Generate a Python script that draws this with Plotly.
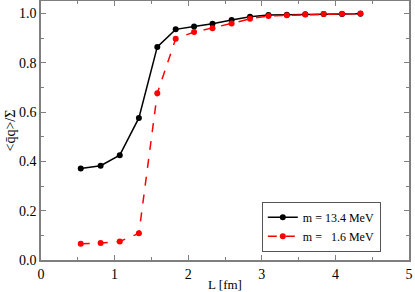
import plotly.graph_objects as go

L = [0.54, 0.81, 1.07, 1.33, 1.58, 1.83, 2.08, 2.33, 2.59, 2.84, 3.09, 3.34, 3.59, 3.84, 4.09, 4.34]
heavy = [0.371, 0.382, 0.425, 0.576, 0.864, 0.935, 0.947, 0.958, 0.973, 0.986, 0.993, 0.994, 0.996, 0.997, 0.997, 0.998]
light = [0.066, 0.069, 0.075, 0.108, 0.676, 0.897, 0.924, 0.940, 0.959, 0.978, 0.989, 0.992, 0.995, 0.997, 0.998, 0.999]

FONT = "Times New Roman, Liberation Serif, serif"

fig = go.Figure()
fig.add_trace(go.Scatter(x=L, y=heavy, mode="lines+markers", name="m = 13.4 MeV",
                         line=dict(color="black", width=1.5),
                         marker=dict(color="black", size=6)))
fig.add_trace(go.Scatter(x=L, y=light, mode="lines+markers", name="m =   1.6 MeV",
                         line=dict(color="#ff0000", width=1.5, dash="dash"),
                         marker=dict(color="#ff0000", size=6)))

axis_common = dict(showline=True, linecolor="#7f7f7f", linewidth=1.5, mirror="allticks",
                   ticks="inside", ticklen=5, tickcolor="#7f7f7f", tickwidth=1,
                   showgrid=False, zeroline=False, automargin=False,
                   tickfont=dict(family=FONT, size=14, color="black"))

fig.update_xaxes(range=[0, 5], dtick=1,
                 title=dict(text="L [fm]", font=dict(family=FONT, size=13, color="black"), standoff=2),
                 minor=dict(ticks="inside", dtick=0.5, ticklen=3, tickcolor="#7f7f7f"),
                 **axis_common)
fig.update_yaxes(range=[0, 1.05], dtick=0.2, tickformat=".1f",
                 title=dict(text="<q\u0304q>/\u03a3", font=dict(family=FONT, size=14, color="black"), standoff=0),
                 minor=dict(ticks="inside", dtick=0.1, ticklen=3, tickcolor="#7f7f7f"),
                 **axis_common)

fig.update_layout(
    width=415, height=292,
    margin=dict(l=41, r=6, t=1, b=32, autoexpand=False),
    plot_bgcolor="white", paper_bgcolor="white",
    font=dict(family=FONT, color="black"),
    legend=dict(x=0.6, y=0.225, xanchor="left", yanchor="top",
                bordercolor="#555555", borderwidth=1, bgcolor="white",
                font=dict(family=FONT, size=12), tracegroupgap=0,
                itemwidth=30),
    showlegend=True,
)

fig.write_html("out.html", config={"displayModeBar": False},
               post_script="document.body.style.margin='0';document.body.style.overflow='hidden';")
